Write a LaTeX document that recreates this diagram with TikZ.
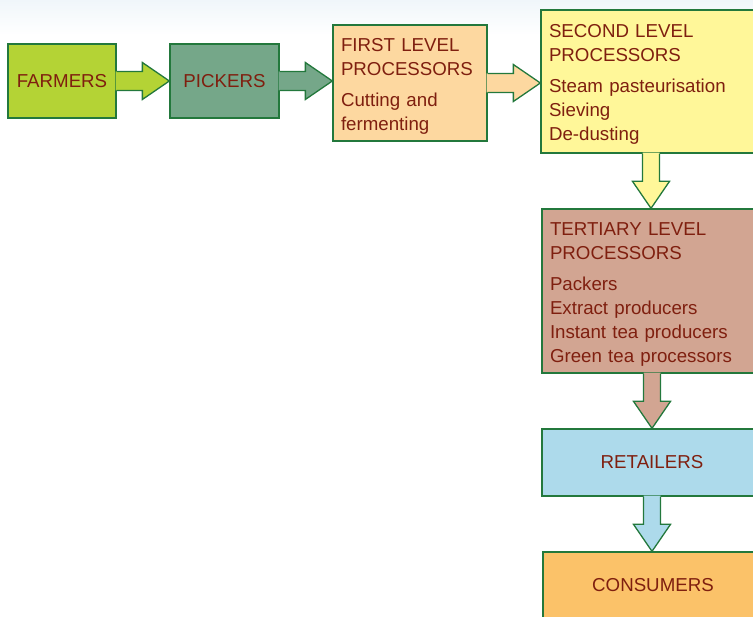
\documentclass[tikz,border=0pt]{standalone}
\usepackage{fontspec}
\setmainfont{Liberation Sans}
\usepackage{xcolor}
\usepackage{tikz}
\usetikzlibrary{calc}

\definecolor{farmcol}{HTML}{B4D335}
\definecolor{pickcol}{HTML}{75A789}
\definecolor{firstcol}{HTML}{FDD8A0}
\definecolor{secondcol}{HTML}{FFF799}
\definecolor{tertcol}{HTML}{D2A592}
\definecolor{retailcol}{HTML}{ADDAEB}
\definecolor{consumcol}{HTML}{FBC269}
\definecolor{edgecol}{HTML}{23783C}
\definecolor{textcol}{HTML}{7F1F0F}
\definecolor{skycol}{HTML}{F0F6FA}

\begin{document}
\begin{tikzpicture}[x=1pt, y=-1pt,
    box/.style={draw=edgecol, line width=1.3pt, text=textcol, inner sep=0pt,
        font=\fontsize{18.7}{24}\selectfont},
    listbox/.style={box, align=left, inner xsep=8pt, text width=#1},
    edge/.style={draw=edgecol, line width=1.3pt}]
    \useasboundingbox (0,0) rectangle (753,617);
    \clip (0,0) rectangle (753,617);
    \shade[top color=skycol, bottom color=white] (0,0) rectangle (753,35);

    % chain of boxes
    \node[box, fill=farmcol, minimum width=108pt, minimum height=74pt] (farmers) at (62,81) {FARMERS};
    \node[box, fill=pickcol, minimum width=109pt, minimum height=74pt] (pickers) at (224.5,81) {PICKERS};
    \node[listbox=138pt, fill=firstcol, minimum height=116pt] (first) at (410,83)
        {\rule{0pt}{19.4pt}FIRST LEVEL\\PROCESSORS\\[7pt]Cutting and\\fermenting};
    \node[listbox=204pt, fill=secondcol, minimum height=143pt] (second) at (651,81.5)
        {\rule{0pt}{19.4pt}SECOND LEVEL\\PROCESSORS\\[7pt]Steam pasteurisation\\Sieving\\De-dusting};
    \node[listbox=204pt, fill=tertcol, minimum height=164pt] (tertiary) at (652,291)
        {\rule{0pt}{19.4pt}TERTIARY LEVEL\\PROCESSORS\\[7pt]Packers\\Extract producers\\Instant tea producers\\Green tea processors};
    \node[box, fill=retailcol, minimum width=220pt, minimum height=67pt] (retailers) at (652,462.5) {RETAILERS};
    \node[box, fill=consumcol, minimum width=220pt, minimum height=67pt] (consumers) at (653,585.5) {CONSUMERS};

    % block arrows
    \foreach \a/\b/\c in {farmers/pickers/farmcol, pickers/first/pickcol, first/second/firstcol} {
        \fill[\c] ($(\a.east)+(-1,-9.5)$) -| ($(\a.east -| \b.west)+(-27,-18.5)$) -- (\a.east -| \b.west)
            -- ($(\a.east -| \b.west)+(-27,18.5)$) |- ($(\a.east)+(-1,9.5)$) -- cycle;
        \draw[edge] ($(\a.east)+(0,-9.5)$) -| ($(\a.east -| \b.west)+(-27,-18.5)$) -- (\a.east -| \b.west)
            -- ($(\a.east -| \b.west)+(-27,18.5)$) |- ($(\a.east)+(0,9.5)$);
    }
    \foreach \a/\b/\c in {second/tertiary/secondcol, tertiary/retailers/tertcol, retailers/consumers/retailcol} {
        \fill[\c] ($(\a.south)+(-8.5,-1)$) |- ($(\a.south |- \b.north)+(-18.5,-27)$) -- (\a.south |- \b.north)
            -- ($(\a.south |- \b.north)+(18.5,-27)$) -| ($(\a.south)+(8.5,-1)$) -- cycle;
        \draw[edge] ($(\a.south)+(-8.5,0)$) |- ($(\a.south |- \b.north)+(-18.5,-27)$) -- (\a.south |- \b.north)
            -- ($(\a.south |- \b.north)+(18.5,-27)$) -| ($(\a.south)+(8.5,0)$);
    }
\end{tikzpicture}
\end{document}
